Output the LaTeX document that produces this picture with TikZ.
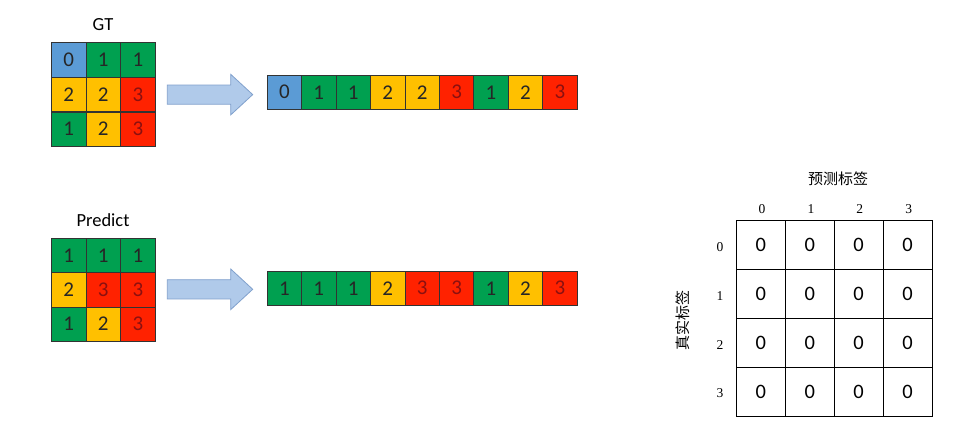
\documentclass[tikz,border=0pt]{standalone}
\usepackage{fontspec}
\setmainfont{Liberation Serif}
\newfontfamily\calfont{Carlito}
\newfontfamily\cjkfont{Noto Sans CJK SC}
\definecolor{cblue}{HTML}{5B9BD5}
\definecolor{cgreen}{HTML}{00A050}
\definecolor{cyellow}{HTML}{FFC000}
\definecolor{cred}{HTML}{FF2200}
\definecolor{cdarkred}{HTML}{8B1010}
\definecolor{arrfill}{HTML}{B0CAEA}
\definecolor{arrdraw}{HTML}{80A0CC}
\begin{document}
\begin{tikzpicture}[x=1pt,y=-1pt,
  cell/.style={draw=black!80,line width=0.7pt,minimum width=34.6pt,minimum height=34.4pt,inner sep=0pt,font=\calfont\fontsize{21}{21}\selectfont,anchor=north west},
  c0/.style={cell,fill=cblue,text=black!85},
  c1/.style={cell,fill=cgreen,text=black!85},
  c2/.style={cell,fill=cyellow,text=black!85},
  c3/.style={cell,fill=cred,text=cdarkred},
  bigarrow/.style={fill=arrfill,draw=arrdraw,line width=0.8pt,line join=miter},
  mcell/.style={draw=black,line width=0.8pt,minimum width=48.9pt,minimum height=48.85pt,inner sep=0pt,anchor=north west,font=\calfont\fontsize{20.5}{20.5}\selectfont},
  axlab/.style={font=\fontsize{13.5}{13.5}\selectfont},
  title/.style={font=\calfont\fontsize{18.5}{18.5}\selectfont},
  cjklab/.style={font=\cjkfont\fontsize{15}{15}\selectfont}]
\useasboundingbox (0,0) rectangle (965,436);
\fill[white] (0,0) rectangle (965,436);
% GT grid
\node[title] (gt) at (103,25) {GT};
\foreach \v [count=\i from 0] in {0,1,1,2,2,3,1,2,3}{
  \pgfmathtruncatemacro{\col}{mod(\i,3)}
  \pgfmathtruncatemacro{\row}{int(\i/3)}
  \node[c\v] (g\i) at (51+34.6*\col,42.3+34.6*\row) {\v};
}
% GT arrow
\coordinate (ga) at (167.3,94.6);
\draw[bigarrow] (ga) ++(0,-9.6) -- ++(63.4,0) -- ++(0,-10.7) -- ++(22,20.3) -- ++(-22,20.3) -- ++(0,-10.7) -- ++(-63.4,0) -- cycle;
% GT strip
\foreach \v [count=\i from 0] in {0,1,1,2,2,3,1,2,3}{
  \node[c\v] (gs\i) at (266.7+34.45*\i,74.7) {\v};
}
% Predict grid
\node[title] (pr) at (103,220) {Predict};
\foreach \v [count=\i from 0] in {1,1,1,2,3,3,1,2,3}{
  \pgfmathtruncatemacro{\col}{mod(\i,3)}
  \pgfmathtruncatemacro{\row}{int(\i/3)}
  \node[c\v] (p\i) at (51+34.6*\col,237.7+34.4*\row) {\v};
}
% Predict arrow
\coordinate (pa) at (167.3,289.3);
\draw[bigarrow] (pa) ++(0,-9.6) -- ++(63.4,0) -- ++(0,-10.7) -- ++(22,20.3) -- ++(-22,20.3) -- ++(0,-10.7) -- ++(-63.4,0) -- cycle;
% Predict strip
\foreach \v [count=\i from 0] in {1,1,1,2,3,3,1,2,3}{
  \node[c\v] (ps\i) at (266.7+34.45*\i,270.7) {\v};
}
% confusion matrix
\node[cjklab] (pt) at (838,179) {预测标签};
\node[cjklab,rotate=90] (tt) at (683,320) {真实标签};
\foreach \c in {0,1,2,3}{
  \node[axlab] (cl\c) at (762+48.9*\c,209.3) {\c};
  \node[axlab] (rl\c) at (720,247+48.85*\c) {\c};
  \foreach \r in {0,1,2,3}{
    \node[mcell] (m\r\c) at (736+48.9*\c,220.3+48.85*\r) {0};
  }
}
\end{tikzpicture}
\end{document}
